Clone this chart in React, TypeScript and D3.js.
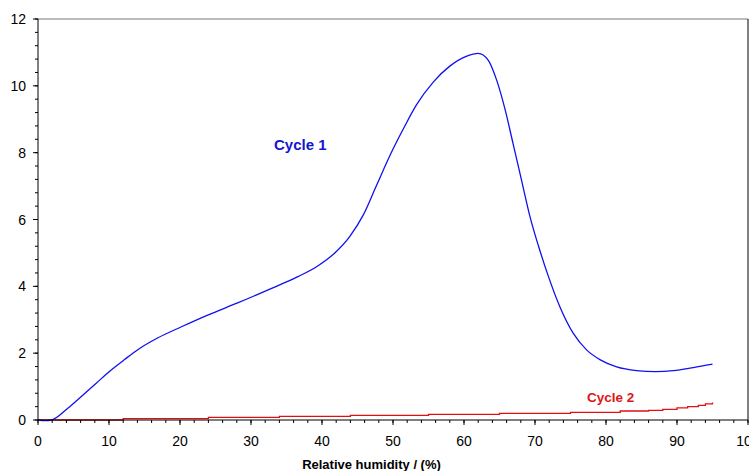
import React from "react";
import * as d3 from "d3";

const cycle1X = [0, 1, 1.9, 4.2, 6.1, 8.2, 10.1, 12.2, 14.1, 16.9, 20.2, 23.9, 28.2, 32.9, 36.6, 39.4, 41.8, 43.9, 45.8, 47.7, 49.6, 51.5, 53.3, 55.7, 58.0, 60.4, 62.0, 63.4, 64.6, 65.8, 66.9, 68.1, 69.3, 70.5, 71.8, 73.5, 75.4, 77.3, 79.2, 81.5, 84.3, 87.0, 89.5, 92.3, 95.0];
const cycle1Y = [0, -0.02, 0, 0.35, 0.7, 1.1, 1.46, 1.81, 2.11, 2.46, 2.79, 3.14, 3.51, 3.94, 4.29, 4.61, 5.0, 5.49, 6.13, 7.03, 7.93, 8.73, 9.43, 10.12, 10.59, 10.89, 10.97, 10.77, 10.17, 9.28, 8.28, 7.18, 6.08, 5.2, 4.35, 3.39, 2.59, 2.09, 1.8, 1.59, 1.48, 1.45, 1.48, 1.57, 1.67];

const cycle2X = [0, 12, 24, 34, 44, 55, 65, 75, 82, 86, 88, 90, 91.5, 93, 94, 95];
const cycle2Y = [0, 0.04, 0.08, 0.11, 0.14, 0.17, 0.2, 0.23, 0.27, 0.29, 0.32, 0.36, 0.4, 0.44, 0.48, 0.52];

const xMajorTicks = [0, 10, 20, 30, 40, 50, 60, 70, 80, 90, 100];
const yMajorTicks = [0, 2, 4, 6, 8, 10, 12];

const xTitle = "Relative humidity / (%)";
const label1 = "Cycle 1";
const label2 = "Cycle 2";

export default function App() {
  const W = 749, H = 471;
  const left = 38, right = 748, top = 19, bottom = 420;
  const x = d3.scaleLinear().domain([0, 100]).range([left, right]);
  const y = d3.scaleLinear().domain([0, 12]).range([bottom, top]);

  const d1 = cycle1X.map((v, i) => [v, cycle1Y[i]] as [number, number]);
  const d2 = cycle2X.map((v, i) => [v, cycle2Y[i]] as [number, number]);
  const line1 = d3.line<[number, number]>().x(d => x(d[0])).y(d => y(d[1])).curve(d3.curveMonotoneX);
  const line2 = d3.line<[number, number]>().x(d => x(d[0])).y(d => y(d[1])).curve(d3.curveStepAfter);

  const xMinor = d3.range(0, 100.001, 2);
  const yMinor = d3.range(0, 12.001, 0.4);
  const font = "Liberation Sans, Arial, sans-serif";

  return (
    <svg width={W} height={H} style={{ position: "absolute", left: 0, top: 0, background: "#fff" }} fontFamily={font}>
      <rect x={0} y={0} width={W} height={H} fill="#fff" />
      <line x1={left} x2={right} y1={top} y2={top} stroke="#777" strokeWidth={1} />
      <line x1={right} x2={right} y1={top} y2={bottom} stroke="#000" strokeWidth={1} />
      <path d={line2(d2) || ""} fill="none" stroke="#e01010" strokeWidth={1.3} />
      <path d={line1(d1) || ""} fill="none" stroke="#1010f0" strokeWidth={1.3} />
      <line x1={left} x2={left} y1={top} y2={bottom} stroke="#000" strokeWidth={1} />
      <line x1={left} x2={right} y1={bottom} y2={bottom} stroke="#000" strokeWidth={1} />
      {yMinor.map((v, i) => (
        <line key={"ym" + i} x1={left - 3} x2={left} y1={y(v)} y2={y(v)} stroke="#000" />
      ))}
      {yMajorTicks.map(v => (
        <g key={"y" + v}>
          <line x1={left - 5} x2={left} y1={y(v)} y2={y(v)} stroke="#000" />
          <text x={left - 12} y={y(v)} dy="0.36em" textAnchor="end" fontSize={14} fill="#000">{v}</text>
        </g>
      ))}
      {xMinor.map((v, i) => (
        <line key={"xm" + i} x1={x(v)} x2={x(v)} y1={bottom} y2={bottom + 3} stroke="#000" />
      ))}
      {xMajorTicks.map(v => (
        <g key={"x" + v}>
          <line x1={x(v)} x2={x(v)} y1={bottom} y2={bottom + 5} stroke="#000" />
          <text x={x(v)} y={445.5} textAnchor="middle" fontSize={14} fill="#000">{v}</text>
        </g>
      ))}
      <text x={371.5} y={469} textAnchor="middle" fontSize={13} fontWeight="bold" fill="#000">{xTitle}</text>
      <text x={274} y={145} dy="0.36em" fontSize={15} fontWeight="bold" fill="#1515d0">{label1}</text>
      <text x={587} y={397} dy="0.36em" fontSize={13.5} fontWeight="bold" fill="#e01515">{label2}</text>
    </svg>
  );
}
